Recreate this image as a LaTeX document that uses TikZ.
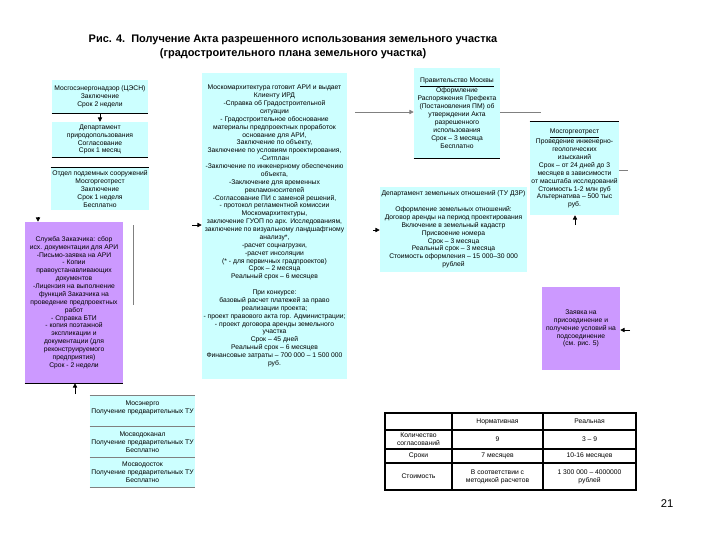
\documentclass[tikz,border=0pt]{standalone}
\usepackage{fontspec}
\setmainfont{Liberation Sans}
\usetikzlibrary{arrows.meta, positioning}
\definecolor{boxcyan}{RGB}{204,255,255}
\definecolor{boxpurple}{RGB}{204,153,255}
\definecolor{linegray}{RGB}{128,128,128}

\begin{document}
\begin{tikzpicture}[x=0.025cm, y=-0.025cm,
  cbox/.style={rectangle, fill=#1, align=center, inner sep=1pt,
               font=\fontsize{4.8}{5.6}\selectfont},
  rule/.style={draw=black, line width=0.8pt},
  sep/.style={draw=linegray, line width=0.6pt},
  link/.style={draw=linegray, line width=0.6pt},
  arr/.style={-{Triangle[length=3pt, width=3pt]}, line width=0.4pt},
  cell/.style={font=\fontsize{4.8}{5.6}\selectfont, align=center},
  tline/.style={line width=1.4pt},
]
  \useasboundingbox (0,0) rectangle (720,540);

  % title
  \node[font=\bfseries\fontsize{7.8}{9.6}\selectfont, align=center] (title) at (293,47)
    {Рис. 4.\ \ Получение Акта разрешенного использования земельного участка\\
     (градостроительного плана земельного участка)};

  % left column
  \node[cbox=boxcyan, minimum width=2.4cm, minimum height=0.825cm] (mosenergo) at (100,96.5)
    {Мосгосэнергонадзор (ЦЭСН)\\Заключение\\Срок 2 недели};
  \node[cbox=boxcyan, minimum width=2.4cm, minimum height=0.875cm] (priroda) at (100,139.5)
    {Департамент\\природопользования\\Согласование\\Срок 1 месяц};
  \node[cbox=boxcyan, minimum width=2.4cm, minimum height=1.05cm] (podzem) at (100,189)
    {Отдел подземных сооружений\\Мосгоргеотрест\\Заключение\\Срок 1 неделя\\Бесплатно};
  \draw[rule] (mosenergo.south west) -- (mosenergo.south east);
  \draw[rule] (priroda.south west) -- (priroda.south east);
  \draw[rule] (podzem.north west) -- (podzem.north east);

  \node[cbox=boxpurple, minimum width=2.45cm, minimum height=4.025cm] (zakaz) at (74,302.5)
    {Служба Заказчика: сбор\\исх. документации для АРИ\\-Письмо-заявка на АРИ\\- Копии\\
     правоустанавливающих\\документов\\-Лицензия на выполнение\\функций Заказчика на\\
     проведение предпроектных\\работ\\- Справка БТИ\\- копия поэтажной\\экспликации и\\
     документации (для\\реконструируемого\\предприятия)\\Срок - 2 недели};
  \draw[rule] (zakaz.south west) -- (zakaz.south east);

  % centre
  \node[cbox=boxcyan, minimum width=3.625cm, minimum height=7.625cm] (mka) at (274.5,226)
    {Москомархитектура готовит АРИ и выдает\\Клиенту ИРД\\-Справка об Градостроительной\\
     ситуации\\- Градостроительное обоснование\\материалы предпроектных проработок\\
     основание для АРИ,\\Заключение по объекту,\\Заключение по условиям проектирования,\\
     -Ситплан\\-Заключение по инженерному обеспечению\\объекта,\\-Заключение для временных\\
     рекламоносителей\\-Согласование ПИ с заменой решений,\\- протокол регламентной комиссии\\
     Москомархитектуры,\\заключение ГУОП по арх. Исследованиям,\\
     заключение по визуальному ландшафтному\\анализу*,\\-расчет соцнагрузки,\\
     -расчет инсоляции\\(* - для первичных градпроектов)\\Срок – 2 месяца\\
     Реальный срок – 6 месяцев\\[5.6pt]При конкурсе:\\базовый расчет платежей за право\\
     реализации проекта;\\- проект правового акта гор. Администрации;\\
     - проект договора аренды земельного\\участка\\Срок – 45 дней\\
     Реальный срок – 6 месяцев\\Финансовые затраты – 700 000 – 1 500 000\\руб.};

  % right side
  \node[cbox=boxcyan, minimum width=2.15cm, minimum height=2.25cm] (prav) at (457,113)
    {\underline{Правительство Москвы}\\Оформление\\Распоряжения Префекта\\
     (Постановления ПМ) об\\утверждении Акта\\разрешенного\\использования\\
     Срок – 3 месяца\\Бесплатно};
  \draw[rule] (prav.south west) -- (prav.south east);

  \node[cbox=boxcyan, minimum width=1.925cm, minimum height=2.325cm] (geo) at (574.5,168.5)
    {\underline{Мосгоргеотрест}\\Проведение инженерно-\\геологических\\изысканий\\
     Срок – от 24 дней до 3\\месяцев в зависимости\\от масштаба исследований\\
     Стоимость 1-2 млн руб\\Альтернатива – 500 тыс\\руб.};
  \draw[rule] (geo.north west) -- (geo.north east);

  \node[cbox=boxcyan, minimum width=3.675cm, minimum height=2.125cm] (dzr) at (453.5,229.5)
    {Департамент земельных отношений (ТУ ДЗР)\\[5.6pt]Оформление земельных отношений:\\
     Договор аренды на период проектирования\\Включение в земельный кадастр\\
     Присвоение номера\\Срок – 3 месяца\\Реальный срок – 3 месяца\\
     Стоимость оформления – 15 000–30 000\\рублей};

  \node[cbox=boxpurple, minimum width=1.95cm, minimum height=2.075cm] (zayavka) at (581,328.5)
    {Заявка на\\присоединение и\\получение условий на\\подсоединение\\(см. рис. 5)};

  % bottom left
  \node[cbox=boxcyan, minimum width=2.375cm, minimum height=0.775cm] (mosenergo2) at (142.5,411.5)
    {Мосэнерго\\Получение предварительных ТУ\\\mbox{}};
  \node[cbox=boxcyan, minimum width=2.375cm, minimum height=0.775cm] (vodokanal) at (142.5,442.5)
    {Мосводоканал\\Получение предварительных ТУ\\Бесплатно};
  \node[cbox=boxcyan, minimum width=2.375cm, minimum height=0.725cm] (vodostok) at (142.5,472.5)
    {Мосводосток\\Получение предварительных ТУ\\Бесплатно};
  \draw[sep] (mosenergo2.north west) -- (mosenergo2.north east);
  \draw[sep] (vodokanal.north west) -- (vodokanal.north east);
  \draw[sep] (vodostok.north west) -- (vodostok.north east);
  \draw[sep] (vodostok.south west) -- (vodostok.south east);

  % connectors
  \coordinate (mkaout) at (355,112);
  \coordinate (pravout) at (541,112);
  \coordinate (geoout) at (628,170);
  \coordinate (geoin) at (575,225);
  \coordinate (zayin) at (630,330);
  \coordinate (zakin) at (38,217);
  \coordinate (zakup) at (75,394);
  \coordinate (mkain) at (192,225);
  \coordinate (dzrin) at (373,230);
  \coordinate (vtop) at (133,225);
  \coordinate (vbot) at (133,305);

  \draw[link, arr] (mkaout) -- (mkaout -| prav.west);
  \draw[link] (prav.east |- pravout) -- (pravout);
  \draw[link] (geo.east |- geoout) -- (geoout);
  \draw[link] (vtop) -- (vbot);
  \draw[arr] (geoin) -- (geoin |- geo.south);
  \draw[arr] (zayin) -- (zayin -| zayavka.east);
  \draw[arr] (mosenergo.south) -- (priroda.north);
  \draw[arr] (zakin) -- (zakin |- zakaz.north);
  \draw[arr] (zakup) -- (zakup |- zakaz.south);
  \draw[arr] (mkain) -- (mkain -| mka.west);
  \draw[arr] (dzrin) -- (dzrin -| dzr.west);

  % table
  \draw[tline] (385,430) -- (636,430) (385,449) -- (636,449) (385,463) -- (636,463);
  \draw[tline] (452,413) -- (452,490) (543,413) -- (543,490);
  \draw[line width=2pt] (385,413) rectangle (636,490);
  \node[cell] (tn) at (497.5,421.5) {Нормативная};
  \node[cell] (tr) at (589.5,421.5) {Реальная};
  \node[cell] (tk) at (418.5,439.5) {Количество\\согласований};
  \node[cell] (tk1) at (497.5,439.5) {9};
  \node[cell] (tk2) at (589.5,439.5) {3 – 9};
  \node[cell] (ts) at (418.5,456) {Сроки};
  \node[cell] (ts1) at (497.5,456) {7 месяцев};
  \node[cell] (ts2) at (589.5,456) {10-16 месяцев};
  \node[cell] (tc) at (418.5,476.5) {Стоимость};
  \node[cell] (tc1) at (497.5,476.5) {В соответствии с\\методикой расчетов};
  \node[cell] (tc2) at (589.5,476.5) {1 300 000 – 4000000\\рублей};

  % page number
  \node[font=\fontsize{8}{9}\selectfont] (page) at (667,504) {21};
\end{tikzpicture}
\end{document}
